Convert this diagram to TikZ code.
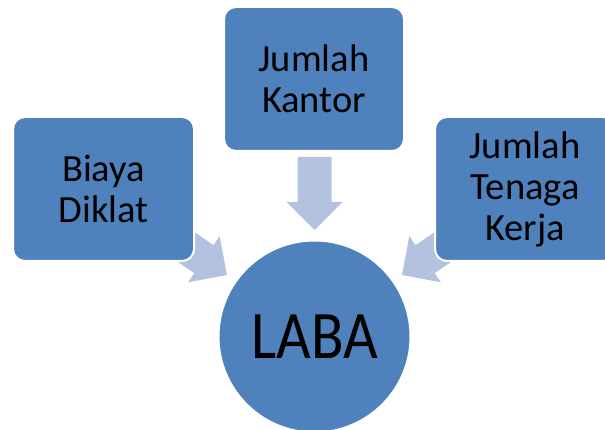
\documentclass[tikz,border=0pt]{standalone}
\usepackage{fontspec}
\setmainfont{Carlito}
\newfontfamily\hubfont[FakeStretch=0.88]{Carlito}
\definecolor{boxblue}{HTML}{4F81BD}
\definecolor{arrowblue}{HTML}{B2C2DF}
\begin{document}
\begin{tikzpicture}[x=1pt,y=-1pt,
  box/.style={fill=boxblue,draw=white,line width=2pt,rounded corners=12pt,
    minimum width=181pt,minimum height=144pt,inner sep=0pt,
    align=center,font=\fontsize{38.5}{41}\selectfont,text=black},
  hub/.style={circle,fill=boxblue,draw=white,line width=2pt,minimum size=192pt,
    inner sep=0pt,font=\hubfont\fontsize{68}{70}\selectfont,text=black},
  blockarrow/.style={fill=arrowblue,draw=none}]
\useasboundingbox (0,0) rectangle (605,430);
\clip (0,0) rectangle (605,430);
% arrows (behind boxes)
\draw[blockarrow] (297.5,157) -- (297.5,202) -- (286.5,202) -- (314.5,230) -- (342.5,202) -- (331.5,202) -- (331.5,157) -- cycle;
\draw[blockarrow] (157.2,247.7) -- (194.3,273.2) -- (188.1,282.3) -- (227,275) -- (219.7,236.1) -- (213.5,245.2) -- (176.4,219.7) -- cycle;
\draw[blockarrow] (471.8,247.7) -- (434.7,273.2) -- (440.9,282.3) -- (402,275) -- (409.3,236.1) -- (415.5,245.2) -- (452.6,219.7) -- cycle;
% boxes
\node[box] (biaya) at (103.5,189) {Biaya\\Diklat};
\node[box,minimum width=180pt] (kantor) at (314,79) {Jumlah\\Kantor};
\node[box,minimum width=180pt] (tenaga) at (525,189) {Jumlah\\Tenaga\\Kerja};
\node[hub] (laba) at (314.5,336.5) {LABA};
\end{tikzpicture}
\end{document}
